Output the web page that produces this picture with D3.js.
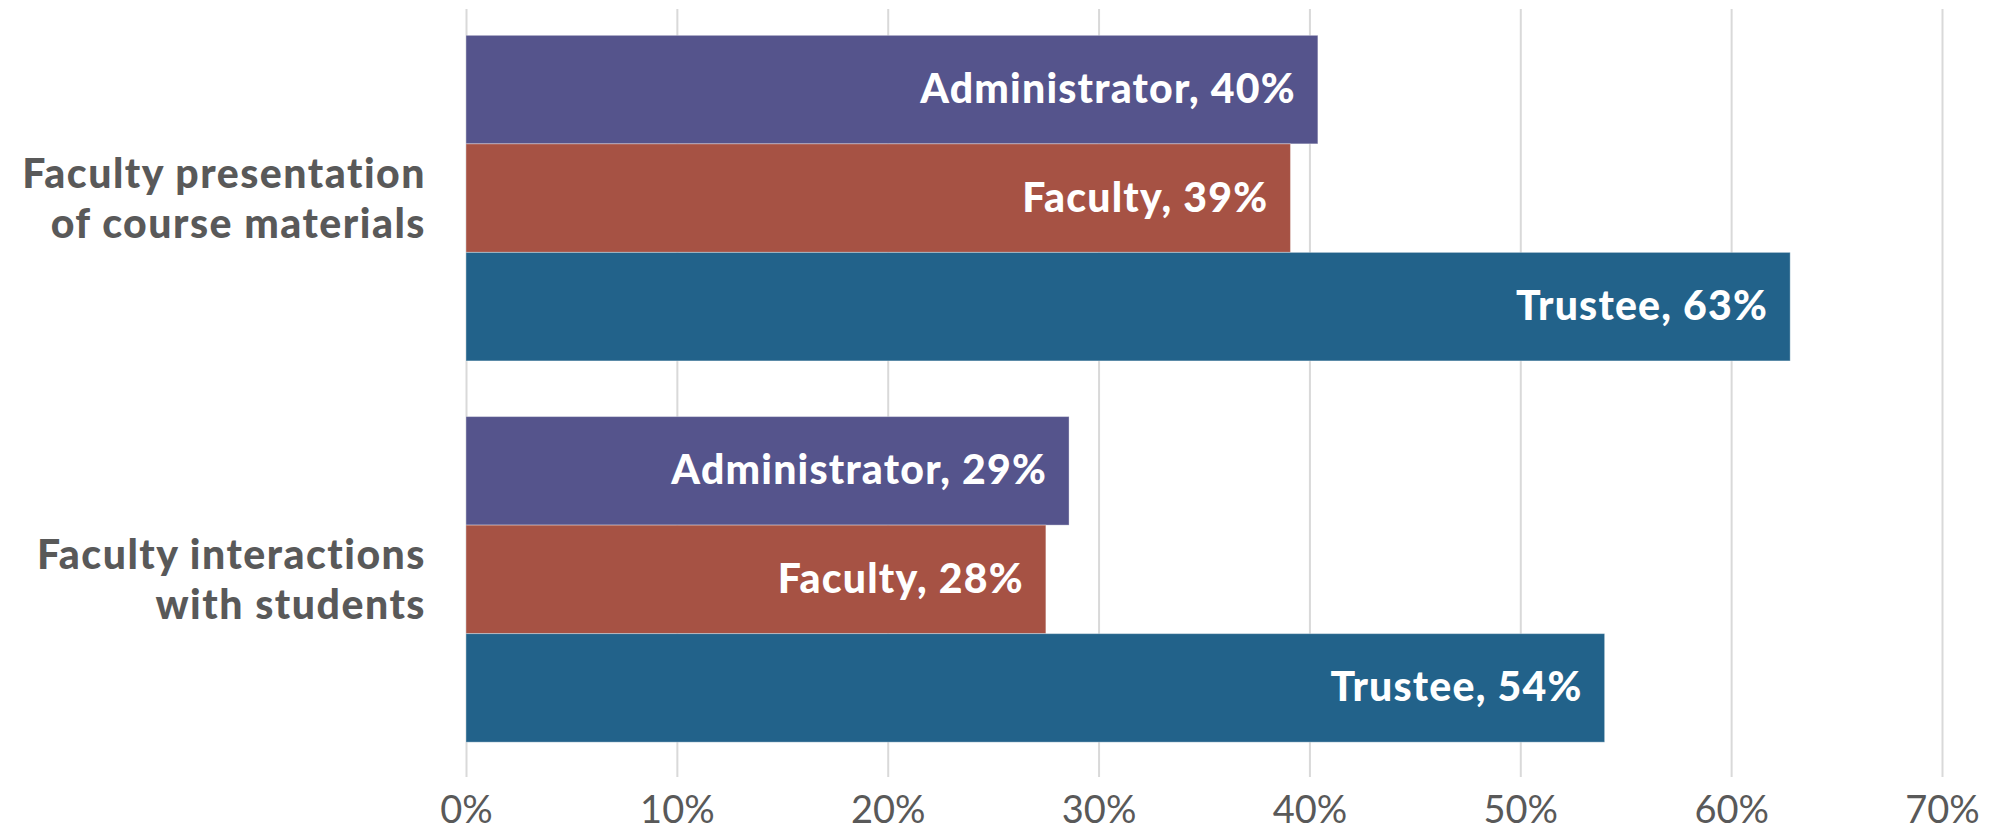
<!DOCTYPE html>
<html>
    <head>
        <script src="https://d3js.org/d3.v7.min.js"></script>
        <style>
            body { margin: 0; background: #fff; }
            text { font-family: Lato, "Noto Sans", sans-serif; }
        </style>
    </head>
    <body>
    <script>
        var w = 2001;
        var h = 834;

        // chart values
        var categories = ['Faculty presentation of course materials', 'Faculty interactions with students'];
        var categoryLines = [['Faculty presentation', 'of course materials'], ['Faculty interactions', 'with students']];
        var seriesNames = ['Administrator', 'Faculty', 'Trustee'];
        var administrator = [40.4, 28.6];
        var faculty = [39.1, 27.5];
        var trustee = [62.8, 54.0];
        var xTicks = [0, 10, 20, 30, 40, 50, 60, 70];
        var colors = ['#55548c', '#a65244', '#22628a'];

        var seriesValues = [administrator, faculty, trustee];

        var svg = d3.select('body').append('svg')
            .attr('width', w)
            .attr('height', h);

        var gridTop = 9;
        var gridBottom = 777;

        var x = d3.scaleLinear()
            .domain([0, 70])
            .range([466, 1942]);

        var y = d3.scaleBand()
            .domain(categories)
            .range([7.5, 770])
            .paddingInner(0.146)
            .paddingOuter(0.073);

        var ySub = d3.scaleBand()
            .domain(seriesNames)
            .range([0, y.bandwidth()]);

        // gridlines + tick labels
        var axis = d3.axisBottom(x)
            .tickValues(xTicks)
            .tickSize(-(gridBottom - gridTop))
            .tickFormat(function (d) { return d + '%' });

        var ax = svg.append('g')
            .attr('transform', 'translate(0,' + gridBottom + ')')
            .call(axis);
        ax.select('.domain').remove();
        ax.selectAll('.tick line')
            .attr('stroke', '#d9d9d9')
            .attr('stroke-width', 2);
        ax.selectAll('.tick text')
            .attr('y', 46)
            .attr('dy', 0)
            .attr('fill', '#595959')
            .style('font-size', '38px')
            .style('font-weight', 400);

        // bars
        var rows = [];
        categories.forEach(function (c, i) {
            seriesNames.forEach(function (s, j) {
                rows.push({ cat: c, series: s, value: seriesValues[j][i], color: colors[j] });
            });
        });

        var bars = svg.append('g').selectAll('g')
            .data(rows)
            .enter().append('g')
            .attr('transform', function (d) { return 'translate(0,' + (y(d.cat) + ySub(d.series)) + ')' });

        bars.append('rect')
            .attr('x', x(0))
            .attr('y', 0)
            .attr('width', function (d) { return x(d.value) - x(0) })
            .attr('height', ySub.bandwidth())
            .attr('fill', function (d) { return d.color })
            .attr('stroke', 'rgba(255,255,255,0.35)')
            .attr('stroke-width', 1);

        bars.append('text')
            .attr('x', function (d) { return x(d.value) - 22 })
            .attr('y', ySub.bandwidth() / 2 + 13.5)
            .attr('text-anchor', 'end')
            .attr('fill', '#fff')
            .style('font-size', '41px')
            .style('font-weight', 900)
            .style('letter-spacing', '1.2px')
            .text(function (d) { return d.series + ', ' + d3.format('.0f')(d.value) + '%' });

        // category labels
        var cats = svg.append('g').selectAll('text')
            .data(categories)
            .enter().append('text')
            .attr('text-anchor', 'end')
            .attr('fill', '#595959')
            .style('font-size', '41px')
            .style('font-weight', 900)
            .style('letter-spacing', '1.5px');

        cats.selectAll('tspan')
            .data(function (d, i) { return categoryLines[i] })
            .enter().append('tspan')
            .attr('x', 426)
            .attr('y', function (d, k) {
                var c = d3.select(this.parentNode).datum();
                return y(c) + y.bandwidth() / 2 - 10 + k * 50;
            })
            .text(function (d) { return d });
    </script>
    </body>
</html>
